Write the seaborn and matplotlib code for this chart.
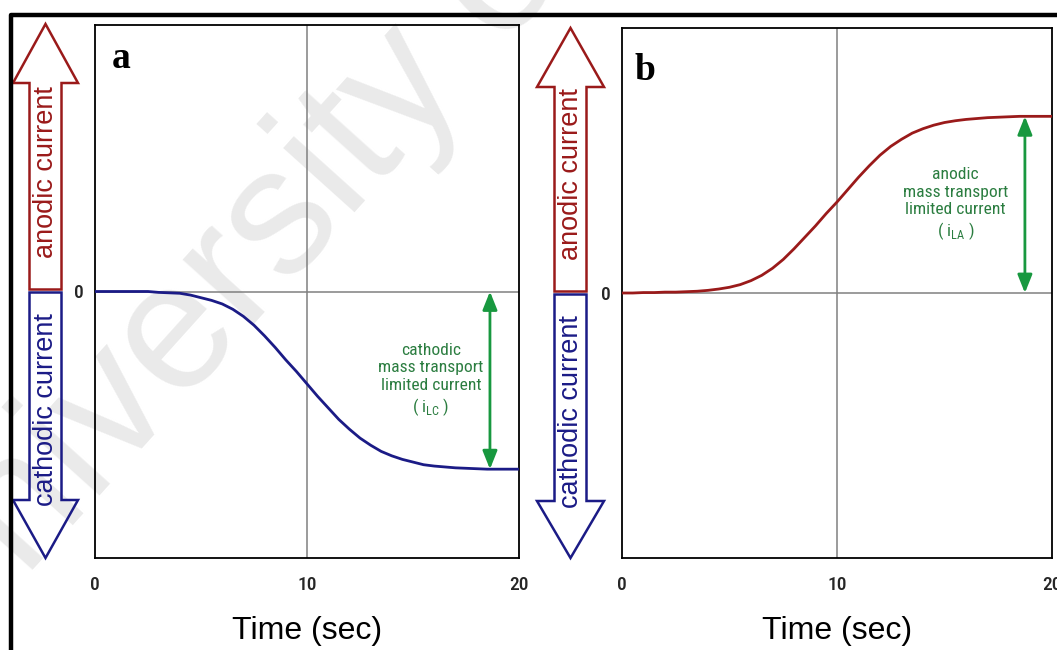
import matplotlib
matplotlib.use("Agg")
import matplotlib.pyplot as plt
from matplotlib import font_manager as fm
from matplotlib.patches import Polygon
import pandas as pd
import seaborn as sns

# ---- data -------------------------------------------------------------
time_s = [0, 0.5, 1, 1.5, 2, 2.5, 3, 3.5, 4, 4.5, 5, 5.5, 6, 6.5, 7, 7.5,
          8, 8.5, 9, 9.5, 10, 10.5, 11, 11.5, 12, 12.5, 13, 13.5, 14, 14.5,
          15, 15.5, 16, 16.5, 17, 17.5, 18, 18.5, 19, 19.5, 20]

cathodic_current = [0, 0, 0, 0, 0, 0, -0.01, -0.015, -0.02, -0.04, -0.07,
                    -0.1, -0.14, -0.2, -0.28, -0.38, -0.5, -0.63, -0.77,
                    -0.9, -1.04, -1.18, -1.31, -1.44, -1.55, -1.65, -1.73,
                    -1.8, -1.85, -1.89, -1.92, -1.95, -1.965, -1.975, -1.985,
                    -1.99, -1.995, -2.0, -2.0, -2.0, -2.0]

anodic_current = [0, 0, 0.005, 0.005, 0.01, 0.01, 0.015, 0.02, 0.03, 0.045,
                  0.065, 0.095, 0.14, 0.2, 0.28, 0.38, 0.5, 0.63, 0.76, 0.9,
                  1.03, 1.17, 1.31, 1.44, 1.56, 1.66, 1.74, 1.81, 1.86, 1.9,
                  1.93, 1.95, 1.965, 1.975, 1.985, 1.99, 1.995, 2.0, 2.0,
                  2.0, 2.0]

x_ticks = [0, 10, 20]
y_ticks = [-3, -2, -1, 0, 1, 2, 3]
y_tick_labels = ["", "", "", "0", "", "", ""]

panel_letters = ["a", "b"]
limit_labels = ["cathodic\nmass transport\nlimited current\n( i$_\\mathregular{LC}$ )",
                "anodic\nmass transport\nlimited current\n( i$_\\mathregular{LA}$ )"]
x_label = "Time (sec)"
up_label = "anodic current"
down_label = "cathodic current"

# ---- style ------------------------------------------------------------
sns.set_theme(style="white")
plt.rcParams["font.family"] = ["Liberation Sans", "DejaVu Sans"]

# pick a condensed sans face for the small labels, if one is installed
_entries = fm.fontManager.ttflist
_names = {f.name for f in _entries}
NARROW = dict(family=["Liberation Sans", "DejaVu Sans"])
for cand in ["Liberation Sans Narrow", "Arial Narrow", "Roboto Condensed",
             "Open Sans Condensed", "Nimbus Sans Narrow"]:
    if cand in _names:
        NARROW = dict(family=[cand, "DejaVu Sans"])
        break
else:
    if any(f.name == "Open Sans" and str(f.stretch) in ("condensed", "semi-condensed", "75", "87.5")
           for f in _entries):
        NARROW = dict(family=["Open Sans", "DejaVu Sans"], stretch="condensed")
    elif any(f.name == "Roboto" and str(f.stretch) in ("condensed", "75")
             for f in _entries):
        NARROW = dict(family=["Roboto", "DejaVu Sans"], stretch="condensed")
    elif any(f.name == "DejaVu Sans" and str(f.stretch) in ("condensed", "semi-condensed")
             for f in _entries):
        NARROW = dict(family=["DejaVu Sans"], stretch="condensed")

BLUE = "#1b1b86"
RED = "#9a1a1a"
GREEN_LINE = "#18983f"
GREEN_TEXT = "#2b7d40"
GRID = "#808080"

W, H = 1057, 650
fig = plt.figure(figsize=(W / 100, H / 100), dpi=100)
fig.patch.set_facecolor("white")


def px_axes(left, top, right, bottom):
    return fig.add_axes([left / W, 1 - bottom / H, (right - left) / W, (bottom - top) / H])


ax_a = px_axes(95, 25, 519, 558)
ax_b = px_axes(622, 28, 1052, 558)

df = pd.DataFrame({"time": time_s, "cathodic": cathodic_current, "anodic": anodic_current})

panels = [
    (ax_a, "cathodic", BLUE, 0.92, 0.04, 15.85, 18.63),
    (ax_b, "anodic", RED, 0.902, 0.03, 15.5, 18.74),
]

for i, (ax, col, colour, let_y, let_x, txt_x, arr_x) in enumerate(panels):
    ax.set_facecolor("none")
    ax.axvline(10, color=GRID, lw=1.1, zorder=1)
    ax.axhline(0, color=GRID, lw=1.1, zorder=1)
    sns.lineplot(data=df, x="time", y=col, ax=ax, color=colour, lw=2.0, zorder=3)
    ax.set_xlim(0, 20)
    ax.set_ylim(-3, 3)
    ax.set_xticks(x_ticks)
    ax.set_xticklabels([str(v) for v in x_ticks], fontsize=14, fontweight="medium", **NARROW)
    ax.set_yticks(y_ticks)
    ax.set_yticklabels(y_tick_labels, fontsize=14, fontweight="medium", **NARROW)
    ax.tick_params(axis="both", direction="inout", length=8, width=1.2, color="black")
    ax.tick_params(axis="x", pad=9)
    ax.tick_params(axis="y", pad=4)
    for sp in ax.spines.values():
        sp.set_color("black")
        sp.set_linewidth(1.3)
    ax.set_ylabel("")
    ax.set_xlabel(x_label, fontsize=23, labelpad=16, color="black")

    plateau = df[col].iloc[-1]
    ax.annotate("", xy=(arr_x, plateau), xytext=(arr_x, 0),
                arrowprops=dict(arrowstyle="<|-|>,head_length=0.55,head_width=0.22",
                                color=GREEN_LINE, lw=2.0, mutation_scale=20,
                                shrinkA=0, shrinkB=0), zorder=4)
    ax.text(txt_x, plateau / 2, limit_labels[i], ha="center", va="center",
            multialignment="center", fontsize=12.6,
            color=GREEN_TEXT, linespacing=1.22, zorder=4, **NARROW)
    ax.text(let_x, let_y, panel_letters[i], transform=ax.transAxes,
            ha="left", va="baseline", family=["Liberation Serif", "DejaVu Serif"],
            fontweight="bold", fontsize=27, color="black")

# ---- overlay: frame and direction arrows -----------------------------
ov = fig.add_axes([0, 0, 1, 1], zorder=5)
ov.set_xlim(0, W)
ov.set_ylim(H, 0)
ov.axis("off")
ov.patch.set_alpha(0)

ov.plot([10.5, 10.5, W + 5], [H + 5, 15, 15], color="black", lw=3.2,
        solid_capstyle="projecting", clip_on=False)


def direction_arrows(cx, tip_up, base_up, mid, base_dn, tip_dn, half_head, half_shaft, text_up_y, text_dn_y):
    up = [(cx, tip_up), (cx + half_head, base_up), (cx + half_shaft, base_up),
          (cx + half_shaft, mid - 1.5), (cx - half_shaft, mid - 1.5),
          (cx - half_shaft, base_up), (cx - half_head, base_up)]
    dn = [(cx, tip_dn), (cx + half_head, base_dn), (cx + half_shaft, base_dn),
          (cx + half_shaft, mid + 1.5), (cx - half_shaft, mid + 1.5),
          (cx - half_shaft, base_dn), (cx - half_head, base_dn)]
    ov.add_patch(Polygon(up, closed=True, fill=False, edgecolor=RED, lw=1.8, joinstyle="miter"))
    ov.add_patch(Polygon(dn, closed=True, fill=False, edgecolor=BLUE, lw=1.8, joinstyle="miter"))
    ov.text(cx + 1, text_up_y, up_label, rotation=90, ha="center", va="center",
            fontsize=19.5, color=RED)
    ov.text(cx + 1, text_dn_y, down_label, rotation=90, ha="center", va="center",
            fontsize=19.5, color=BLUE)


direction_arrows(45.5, 24, 83, 291, 500, 558, 32.5, 16, 172, 410)
direction_arrows(570.5, 28, 87, 293, 501, 558, 33.5, 16, 174, 412)

# faint background watermark
fig.text(-62 / W, 1 - 676 / H, "University of Malaya", rotation=48,
         rotation_mode="anchor", ha="left", va="baseline", fontsize=130,
         color="#eaeaea", zorder=-10)

fig.savefig("out.png", dpi=100, facecolor="white")
